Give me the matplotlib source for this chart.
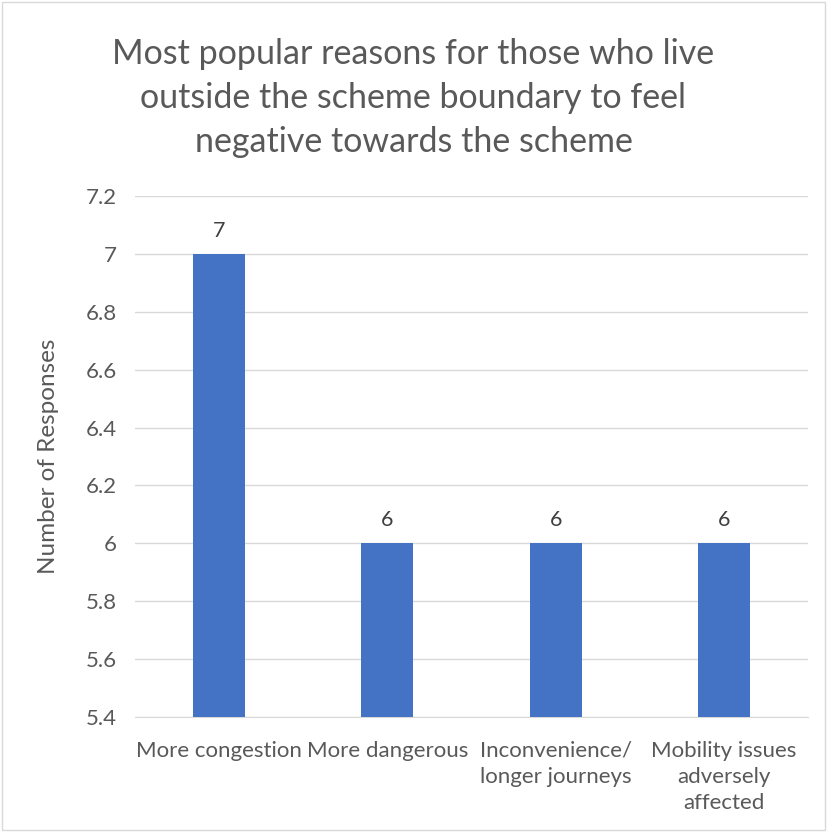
import matplotlib
matplotlib.use("Agg")
import matplotlib.pyplot as plt
from matplotlib.patches import Rectangle

categories = ["More congestion", "More dangerous", "Inconvenience/\nlonger journeys", "Mobility issues\nadversely\naffected"]
values = [7, 6, 6, 6]
yticks = [5.4, 5.6, 5.8, 6.0, 6.2, 6.4, 6.6, 6.8, 7.0, 7.2]
ytick_labels = ["5.4", "5.6", "5.8", "6", "6.2", "6.4", "6.6", "6.8", "7", "7.2"]
title = "Most popular reasons for those who live\noutside the scheme boundary to feel\nnegative towards the scheme"
ylabel = "Number of Responses"

plt.rcParams['font.family'] = ['Lato', 'DejaVu Sans']
text_color = "#595959"

fig = plt.figure(figsize=(8.27, 8.32), dpi=100)
fig.patches.append(Rectangle((0.002, 0.002), 0.996, 0.996, transform=fig.transFigure,
                             fill=False, edgecolor="#D9D9D9", linewidth=1))
ax = fig.add_axes([135/827, 1 - 717/832, (808-135)/827, (717-196)/832])

x = range(len(categories))
bars = ax.bar(x, values, width=0.31, color="#4472C4", zorder=3)
for xi, v in zip(x, values):
    ax.text(xi, v + 0.045, f"{v:g}", ha="center", va="bottom", fontsize=15.5, color="#404040")

ax.set_ylim(5.4, 7.2)
ax.set_xlim(-0.5, len(categories) - 0.5)
ax.set_yticks(yticks)
ax.set_yticklabels(ytick_labels, fontsize=16, color=text_color)
ax.tick_params(axis="y", length=0, pad=13)
ax.set_xticks(list(x))
ax.set_xticklabels(categories, fontsize=16, color=text_color, linespacing=1.4)
ax.tick_params(axis="x", length=0, pad=17)
ax.yaxis.grid(True, color="#D9D9D9", linewidth=1, zorder=0)
for s in ["top", "right", "left"]:
    ax.spines[s].set_visible(False)
ax.spines["bottom"].set_color("#D9D9D9")
ax.set_ylabel(ylabel, fontsize=17.5, color=text_color, labelpad=19)

fig.text(0.5, 1 - 98/832, title, ha="center", va="center", fontsize=24.5,
         color=text_color, linespacing=1.45)

fig.savefig("out.png", dpi=100)
